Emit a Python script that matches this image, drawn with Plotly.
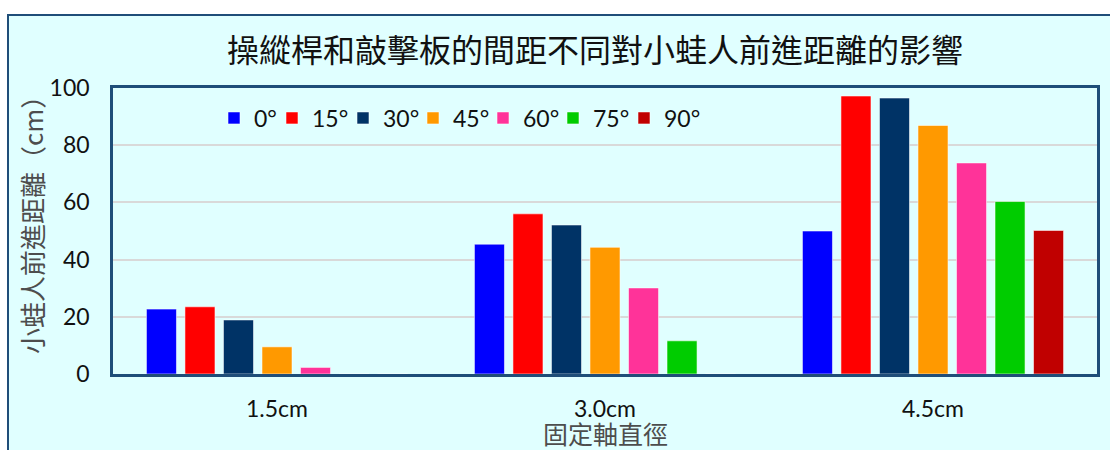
import plotly.graph_objects as go

# Categories (fixed-shaft diameter) and launch-angle series
categories = ["1.5cm", "3.0cm", "4.5cm"]
angles = ["0°", "15°", "30°", "45°", "60°", "75°", "90°"]
colors = ["#0000FF", "#FF0000", "#003366", "#FF9900", "#FF3399", "#00CC00", "#C00000"]

# Forward distance (cm) per angle, one value per diameter
dist_0 = [22.7, 45.4, 50.0]
dist_15 = [23.5, 56.0, 97.2]
dist_30 = [18.9, 52.1, 96.5]
dist_45 = [9.5, 44.3, 86.9]
dist_60 = [2.3, 30.1, 73.8]
dist_75 = [0, 11.6, 60.3]
dist_90 = [0, 0, 50.2]
series = [dist_0, dist_15, dist_30, dist_45, dist_60, dist_75, dist_90]

CJK = "Noto Sans CJK TC"
LAT = "Lato, 'Noto Sans', sans-serif"
NAVY = "#1F4E79"

# Width reserved for each legend entry's text
entry_widths = [13, 26, 25, 25, 25, 26, 40]

fig = go.Figure()
for name, vals, col, ew in zip(angles, series, colors, entry_widths):
    fig.add_trace(go.Bar(
        name=name, x=categories, y=vals,
        marker=dict(color=col, line=dict(color="rgba(255,255,255,0.55)", width=1)),
        legendwidth=ew,
    ))

W, H = 1110, 450
L, R, T, B = 113, 13, 88, 76
PW, PH = W - L - R, H - T - B

# Outer chart frame (extends past the visible canvas at right and bottom)
fig.add_shape(
    type="rect", xref="paper", yref="paper", layer="below",
    x0=(8 - L) / PW, x1=1.2,
    y0=-0.5, y1=1 + (T - 15) / PH,
    fillcolor="#E0FFFF", line=dict(color=NAVY, width=2),
)

# Axis titles
fig.add_annotation(
    text="小蛙人前進距離（cm）", xref="paper", yref="paper",
    x=(31 - L) / PW, y=(H - B - 219) / PH, xanchor="center", yanchor="middle",
    textangle=-90, showarrow=False,
    font=dict(family=CJK, size=26, color="#4D4D4D"),
)
fig.add_annotation(
    text="固定軸直徑", xref="paper", yref="paper",
    x=(605 - L) / PW, y=(H - B - 433) / PH, xanchor="center", yanchor="middle",
    showarrow=False,
    font=dict(family=CJK, size=25, color="#4D4D4D"),
)

fig.update_layout(
    width=W, height=H,
    margin=dict(l=L, r=R, t=T, b=B),
    paper_bgcolor="white",
    plot_bgcolor="#FFFFE0",
    barmode="group",
    bargap=0.178,
    bargroupgap=0.22,
    title=dict(
        text="操縱桿和敲擊板的間距不同對小蛙人前進距離的影響",
        font=dict(family=CJK, size=32, color="#111111"),
        x=0.536, xanchor="center", y=1 - 51 / H, yanchor="middle",
    ),
    legend=dict(
        orientation="h", x=(214 - L) / PW, xanchor="left", y=(H - B - 118) / PH, yanchor="middle",
        bgcolor="rgba(0,0,0,0)",
        font=dict(family=LAT, size=23, color="#111111"),
        itemwidth=30, traceorder="normal",
    ),
    showlegend=True,
)

fig.update_xaxes(
    automargin=False,
    showline=True, linecolor=NAVY, linewidth=2.5, mirror=True,
    tickfont=dict(family=LAT, size=23, color="#111111"),
    ticks="", ticklabelstandoff=13,
)
fig.update_yaxes(
    automargin=False,
    range=[0, 100], dtick=20,
    showline=True, linecolor=NAVY, linewidth=2.5, mirror=True,
    gridcolor="#D9D9D9", gridwidth=2, zeroline=False,
    tickfont=dict(family=LAT, size=23, color="#111111"),
    ticks="", ticklabelstandoff=16,
)

fig.write_html("out.html")
